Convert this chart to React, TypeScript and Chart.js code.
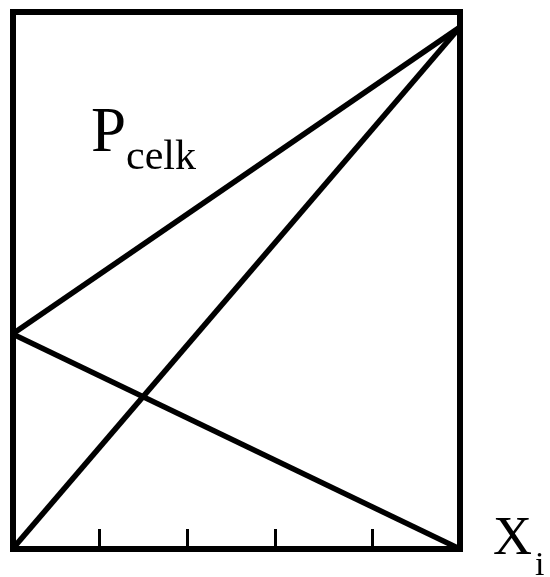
import React, { useEffect, useRef } from "react";
import { Chart, registerables } from "chart.js";

Chart.register(...registerables);

// Composition axis runs from 0 to 1, value axis from 0 to 1
const xEnds = [0, 1];
const risingFromMid = [0.4, 0.971];
const diagonal = [0, 0.971];
const fallingFromMid = [0.4, 0];
const xTickValues = [0.194, 0.39, 0.586, 0.804];

const toPoints = (ys: number[]) => ys.map((y, i) => ({ x: xEnds[i], y }));

const FONT = '"Liberation Serif", "Times New Roman", serif';

const innerTicks = {
  id: "innerTicks",
  afterDraw(chart: any) {
    const { ctx, chartArea, scales } = chart;
    const x = scales.x;
    ctx.save();
    ctx.strokeStyle = "#000";
    ctx.lineWidth = 3;
    xTickValues.forEach((v) => {
      const px = Math.round(x.getPixelForValue(v)) + 0.5;
      ctx.beginPath();
      ctx.moveTo(px, chartArea.bottom);
      ctx.lineTo(px, chartArea.bottom - 20);
      ctx.stroke();
    });
    ctx.restore();
  },
};

const labels = {
  id: "labels",
  afterDraw(chart: any) {
    const { ctx, chartArea } = chart;
    ctx.save();
    ctx.fillStyle = "#000";
    ctx.textBaseline = "alphabetic";
    ctx.textAlign = "left";
    // P with subscript "celk"
    ctx.font = `63px ${FONT}`;
    ctx.fillText("P", 91, 151);
    ctx.font = `42px ${FONT}`;
    ctx.fillText("celk", 126, 169);
    // X with subscript "i"
    ctx.font = `54px ${FONT}`;
    ctx.fillText("X", chartArea.right + 33, 554);
    ctx.font = `34px ${FONT}`;
    ctx.fillText("i", chartArea.right + 75, 575);
    ctx.restore();
  },
};

const frameAxis = (position: string) => ({
  type: "linear",
  position,
  min: 0,
  max: 1,
  ticks: { display: false },
  grid: { display: false, drawTicks: false, tickLength: 0, lineWidth: 6 },
  border: { display: true, color: "#000", width: 6 },
});

export default function App() {
  const ref = useRef<HTMLCanvasElement>(null);

  useEffect(() => {
    if (!ref.current) return;
    const line = (data: number[]) => ({
      data: toPoints(data),
      borderColor: "#000",
      borderWidth: 5.5,
      pointRadius: 0,
      showLine: true,
      fill: false,
      tension: 0,
    });
    const chart = new Chart(ref.current, {
      type: "scatter",
      data: {
        datasets: [
          line(risingFromMid),
          line(diagonal),
          line(fallingFromMid),
        ],
      },
      options: {
        responsive: false,
        animation: false,
        devicePixelRatio: 1,
        layout: { padding: { left: 12.5, top: 11.5, right: 90, bottom: 28 } },
        plugins: { legend: { display: false }, tooltip: { enabled: false } },
        scales: {
          x: frameAxis("bottom"),
          y: frameAxis("left"),
          x2: frameAxis("top"),
          y2: frameAxis("right"),
        } as any,
      },
      plugins: [innerTicks, labels],
    });
    return () => chart.destroy();
  }, []);

  return (
    <div style={{ position: "fixed", left: 0, top: 0, width: 550, height: 577, background: "#fff" }}>
      <canvas ref={ref} width={550} height={577} />
    </div>
  );
}
